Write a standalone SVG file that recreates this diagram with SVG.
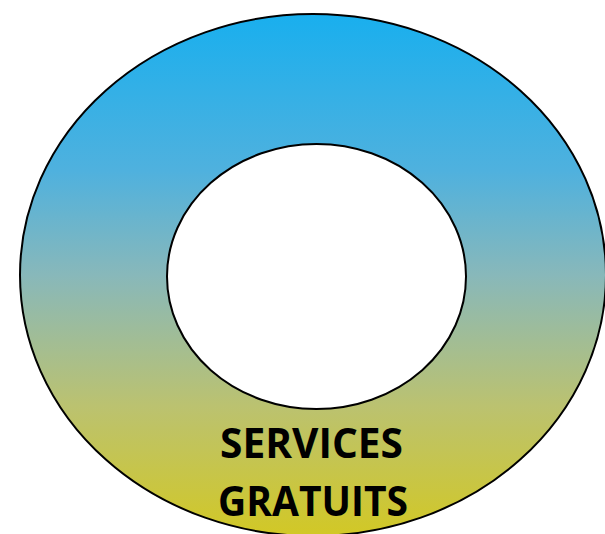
<svg xmlns="http://www.w3.org/2000/svg" width="605" height="534" viewBox="0 0 605 534">
<defs>
<linearGradient id="g" x1="0" y1="0" x2="0" y2="1">
<stop offset="0" stop-color="#19AFEE"/>
<stop offset="0.3" stop-color="#4FB1DE"/>
<stop offset="0.5" stop-color="#88B8BA"/>
<stop offset="0.75" stop-color="#BBC270"/>
<stop offset="1" stop-color="#D2C825"/>
</linearGradient>
<style>
.ln{stroke:#000;stroke-width:2}
.t{font-family:"Open Sans","Liberation Sans",Arial,sans-serif;font-weight:bold;font-size:42px;fill:#000}
</style>
</defs>
<rect width="605" height="534" fill="#fff"/>
<g id="ring">
<ellipse cx="313" cy="275" rx="293" ry="261" fill="url(#g)" class="ln"/>
<ellipse cx="316.5" cy="276.5" rx="149.5" ry="132.5" fill="#fff" class="ln"/>
</g>
<g id="label">
<text class="t" x="220" y="458" textLength="183" lengthAdjust="spacingAndGlyphs">SERVICES</text>
<text class="t" x="218" y="516" textLength="190" lengthAdjust="spacingAndGlyphs">GRATUITS</text>
</g>
</svg>
